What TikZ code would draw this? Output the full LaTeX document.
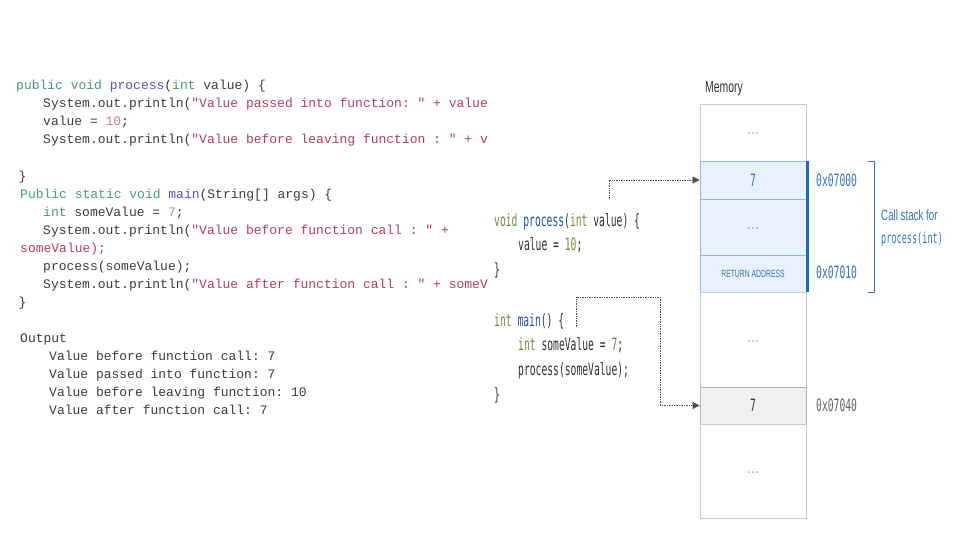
\documentclass[tikz,border=0pt]{standalone}
\usepackage{fontspec}
\usepackage{xcolor}
\usepackage{tikz}
\usetikzlibrary{arrows.meta}

\setmonofont{Liberation Mono}
\newfontfamily\narrowmono[FakeStretch=0.57]{DejaVu Sans Mono}
\newfontfamily\narrowsans[FakeStretch=0.65]{Liberation Sans}

\definecolor{plain}{RGB}{60,60,60}
\definecolor{kw}{RGB}{70,155,125}
\definecolor{fn}{RGB}{85,80,200}
\definecolor{str}{RGB}{178,62,92}
\definecolor{num}{RGB}{190,130,145}
\definecolor{rkw}{RGB}{110,140,60}
\definecolor{rfn}{RGB}{40,80,165}
\definecolor{rtext}{RGB}{50,50,50}
\definecolor{stackblue}{RGB}{55,115,185}
\definecolor{barblue}{RGB}{25,105,190}
\definecolor{cellline}{RGB}{200,200,205}
\definecolor{bluefill}{RGB}{232,242,252}
\definecolor{blueline}{RGB}{140,185,230}
\definecolor{grayfill}{RGB}{241,239,240}
\definecolor{grayline}{RGB}{180,180,180}
\definecolor{arrowgray}{RGB}{80,80,80}
\definecolor{addrgray}{RGB}{100,100,100}

\newcommand{\lkw}[1]{\textcolor{kw}{#1}}
\newcommand{\lfn}[1]{\textcolor{fn}{#1}}
\newcommand{\lstr}[1]{\textcolor{str}{#1}}
\newcommand{\lnum}[1]{\textcolor{num}{#1}}
\newcommand{\rkw}[1]{\textcolor{rkw}{#1}}
\newcommand{\rfn}[1]{\textcolor{rfn}{#1}}
\newcommand{\celldots}{\raisebox{-5pt}{...}}

\begin{document}
\begin{tikzpicture}[
            x=1pt, y=-1pt,
            lcode/.style={anchor=base west, inner sep=0, text=plain, font=\ttfamily\fontsize{13}{15}\selectfont},
            rcode/.style={anchor=base west, inner sep=0, text=rtext, font=\narrowmono\fontsize{17}{19}\selectfont},
            cell/.style={draw=cellline, line width=0.8pt, fill=white, minimum width=106, inner sep=0, text=gray, font=\narrowmono\fontsize{12}{14}\selectfont},
            bluecell/.style={cell, draw=blueline, fill=bluefill, text=stackblue},
            graycell/.style={cell, draw=grayline, fill=grayfill, text=plain},
            addr/.style={anchor=west, inner sep=0, text=stackblue, font=\narrowmono\fontsize{17}{19}\selectfont},
            link/.style={draw=arrowgray, densely dotted, line width=0.7pt, -{Triangle[length=7pt, width=7pt]}}
            ]
            \useasboundingbox (0,0) rectangle (960,540);

            % Java code on the left
            \node[lcode] (j1) at (16,90) {\lkw{public void} \lfn{process}(\lkw{int} value) \{};
            \node[lcode] (j2) at (43,108) {System.out.println(\lstr{"Value passed into function: " + value}};
            \node[lcode] (j3) at (43,126) {value = \lnum{10};};
            \node[lcode] (j4) at (43,144) {System.out.println(\lstr{"Value before leaving function : " + v}};
            \node[lcode] (j5) at (18.5,180) {\}};
            \node[lcode] (j6) at (20,198) {\lkw{Public static void} \lfn{main}(String[] args) \{};
            \node[lcode] (j7) at (43,216) {\lkw{int} someValue = \lnum{7};};
            \node[lcode] (j8) at (43,234) {System.out.println(\lstr{"Value before function call : " +}};
            \node[lcode] (j9) at (20,252) {\lstr{someValue);}};
            \node[lcode] (j10) at (43,270) {process(someValue);};
            \node[lcode] (j11) at (43,288) {System.out.println(\lstr{"Value after function call : " + someV}};
            \node[lcode] (j12) at (18.5,306) {\}};

            % Program output
            \node[lcode] (out) at (20,342) {Output};
            \node[lcode] (o1) at (49,360) {Value before function call: 7};
            \node[lcode] (o2) at (49,378) {Value passed into function: 7};
            \node[lcode] (o3) at (49,396) {Value before leaving function: 10};
            \node[lcode] (o4) at (49,414) {Value after function call: 7};

            % C code in the middle
            \node[rcode] (c1) at (494,226) {\rkw{void} \rfn{process}(\rkw{int} value) \{};
            \node[rcode] (c2) at (518,250) {value = \rkw{10};};
            \node[rcode] (c3) at (494,275) {\}};
            \node[rcode] (c4) at (494,326) {\rkw{int} \rfn{main}() \{};
            \node[rcode] (c5) at (518,350) {\rkw{int} someValue = \rkw{7};};
            \node[rcode] (c6) at (518,375) {process(someValue);};
            \node[rcode] (c7) at (494,400) {\}};

            % Memory column
            \node[anchor=base west, inner sep=0, text=rtext, font=\narrowsans\fontsize{16}{18}\selectfont] (mem) at (705,92.5) {Memory};
            \node[cell, minimum height=57] (m1) at (753,132.5) {\celldots};
            \node[bluecell, minimum height=38, font=\narrowmono\fontsize{17}{19}\selectfont] (m2) at (753,180) {7};
            \node[bluecell, minimum height=56, text=gray] (m3) at (753,227) {\celldots};
            \node[bluecell, minimum height=37, font=\narrowsans\fontsize{10.5}{12}\selectfont] (m4) at (753,273.5) {RETURN ADDRESS};
            \node[cell, minimum height=95] (m5) at (753,339.5) {\celldots};
            \node[graycell, minimum height=37, font=\narrowmono\fontsize{17}{19}\selectfont] (m6) at (753,405.5) {7};
            \node[cell, minimum height=94] (m7) at (753,471) {\celldots};
            \draw[barblue, line width=3pt] ([xshift=1.5pt]m2.north east) -- ([xshift=1.5pt]m4.south east);

            % Addresses and call stack
            \node[addr] (a1) at (816,180) {0x07000};
            \node[addr] (a2) at (816,272) {0x07010};
            \node[addr, text=addrgray] (a3) at (816,405) {0x07040};
            \draw[stackblue, line width=0.7pt] (868,161) -- (874,161) -- (874,292) -- (868,292);
            \node[anchor=base west, inner sep=0, text=stackblue, font=\narrowsans\fontsize{15}{17}\selectfont] (cs1) at (881,220) {Call stack for};
            \node[anchor=base west, inner sep=0, text=stackblue, font=\narrowmono\fontsize{15}{17}\selectfont] (cs2) at (881,243) {process(int)};

            % Arrows
            \coordinate (p1) at (609,199);
            \coordinate (p2) at (576,327);
            \coordinate (k2) at (660,297);
            \draw[link] (p1) |- (m2.west);
            \draw[link] (p2) |- (k2) |- (m6.west);
        \end{tikzpicture}
\end{document}
